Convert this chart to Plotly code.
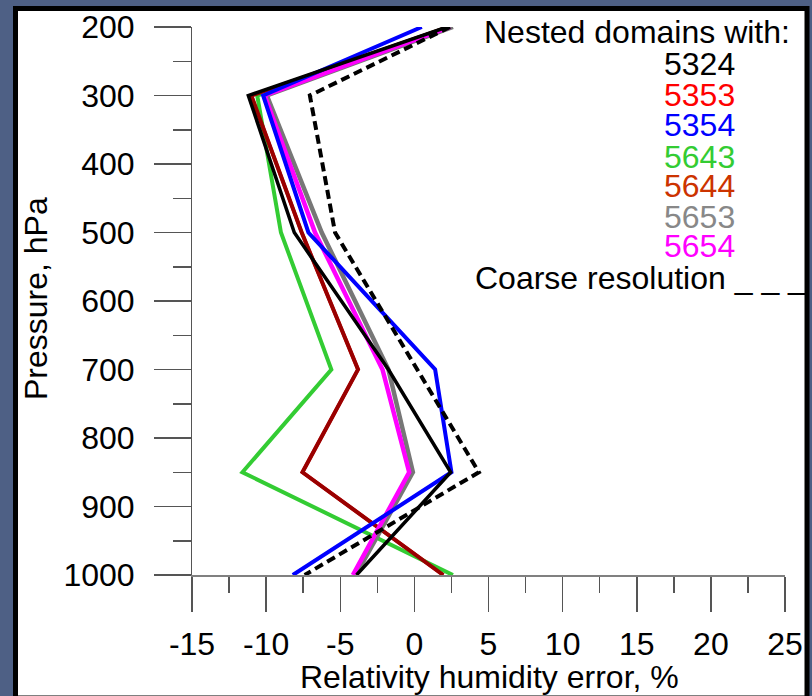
import plotly.graph_objects as go

# ---------------- data ----------------
pressure = [200, 300, 500, 700, 850, 1000]

series_names = ["5324", "5353", "5354", "5643", "5644", "5653", "5654"]
err_5324 = [2.2, -11.2, -8.1, -1.75, 2.45, -3.9]
err_5353 = [2.3, -11.0, -7.6, -3.8, -7.55, 1.95]
err_5354 = [0.5, -10.2, -7.15, 1.4, 2.5, -8.2]
err_5643 = [2.3, -10.6, -9.0, -5.6, -11.6, 2.6]
err_5644 = [2.3, -11.0, -7.6, -3.8, -7.55, 1.95]
err_5653 = [2.6, -9.95, -6.25, -1.75, -0.1, -3.95]
err_5654 = [2.4, -10.1, -6.7, -2.15, -0.35, -4.15]
err_coarse = [2.4, -7.05, -5.35, 0.2, 4.35, -7.4]

x_tick_vals = [-15, -10, -5, 0, 5, 10, 15, 20, 25]
x_tick_text = ["-15", "-10", "-5", "0", "5", "10", "15", "20", "25"]
y_tick_vals = [200, 300, 400, 500, 600, 700, 800, 900, 1000]
y_tick_text = ["200", "300", "400", "500", "600", "700", "800", "900", "1000"]

legend_title = "Nested domains with:"
coarse_label = "Coarse resolution _ _ _"
x_title = "Relativity humidity error, %"
y_title = "Pressure, hPa"

# ---------------- styling ----------------
W, H = 812, 696
L, R, T, B = 192, 785, 27, 575  # plot area in pixels
FONT = "Liberation Sans, Arial, sans-serif"
FS = 32
BG = "#4e6085"

def px(xp):
    return (xp - L) / (R - L)

def py(yp):
    return (B - yp) / (B - T)

line_styles = {
    "5324": dict(color="#000000", width=3.5),
    "5353": dict(color="#ff0000", width=3.5),
    "5354": dict(color="#0000ff", width=4),
    "5643": dict(color="#33cc33", width=4),
    "5644": dict(color="#990000", width=4),
    "5653": dict(color="#777777", width=4.5),
    "5654": dict(color="#ff00ff", width=4.5),
}
legend_colors = {
    "5324": "#000000", "5353": "#ff0000", "5354": "#0000ff", "5643": "#33cc33",
    "5644": "#cc3300", "5653": "#888888", "5654": "#ff00ff",
}
series_data = {
    "5324": err_5324, "5353": err_5353, "5354": err_5354, "5643": err_5643,
    "5644": err_5644, "5653": err_5653, "5654": err_5654,
}
draw_order = ["5353", "5643", "5644", "5653", "5654", "5354", "5324"]

fig = go.Figure()
for name in draw_order:
    fig.add_trace(go.Scatter(x=series_data[name], y=pressure, mode="lines",
                             line=line_styles[name], name=name, showlegend=False))
fig.add_trace(go.Scatter(x=err_coarse, y=pressure, mode="lines",
                         line=dict(color="#000000", width=4, dash="9px,5px"),
                         name="Coarse resolution", showlegend=False))

annotations = []
annotations.append(dict(text=legend_title, x=px(792), y=py(32), xref="paper", yref="paper",
                        xanchor="right", yanchor="middle", showarrow=False,
                        font=dict(family=FONT, size=FS, color="#000000")))
legend_y = [64, 95, 125, 157, 186, 217, 246]
for name, yy in zip(series_names, legend_y):
    annotations.append(dict(text=name, x=px(699), y=py(yy), xref="paper", yref="paper",
                            xanchor="center", yanchor="middle", showarrow=False,
                            font=dict(family=FONT, size=FS, color=legend_colors[name])))
annotations.append(dict(text=coarse_label, x=px(473), y=py(278), xref="paper", yref="paper",
                        xanchor="left", yanchor="middle", showarrow=False,
                        font=dict(family=FONT, size=FS, color="#000000")))
annotations.append(dict(text=x_title, x=px(489), y=py(677), xref="paper", yref="paper",
                        xanchor="center", yanchor="middle", showarrow=False,
                        font=dict(family=FONT, size=FS, color="#000000")))
annotations.append(dict(text=y_title, x=px(36), y=py(299), xref="paper", yref="paper",
                        xanchor="center", yanchor="middle", showarrow=False, textangle=-90,
                        font=dict(family=FONT, size=FS, color="#000000")))

shapes = [
    dict(type="rect", xref="paper", yref="paper", layer="below",
         x0=px(15.5), x1=px(807), y0=py(698), y1=py(8.5),
         fillcolor="#ffffff", line=dict(color="#000000", width=5)),
]

fig.update_layout(
    width=W, height=H,
    margin=dict(l=L, r=W - R, t=T, b=H - B, pad=0, autoexpand=False),
    paper_bgcolor=BG,
    plot_bgcolor="rgba(0,0,0,0)",
    showlegend=False,
    annotations=annotations,
    shapes=shapes,
    font=dict(family=FONT, size=FS, color="#000000"),
    xaxis=dict(range=[-15, 25], tickvals=x_tick_vals, ticktext=x_tick_text, automargin=False,
               showgrid=False, zeroline=False, showline=True, linecolor="#808080", linewidth=2,
               ticks="outside", ticklen=35, tickwidth=1.5, tickcolor="#555555",
               minor=dict(dtick=2.5, ticks="outside", ticklen=16, tickwidth=1.5, tickcolor="#555555"),
               tickfont=dict(family=FONT, size=FS, color="#000000"),
               ticklabelstandoff=5, fixedrange=True),
    yaxis=dict(range=[1000, 200], tickvals=y_tick_vals, ticktext=y_tick_text, automargin=False,
               showgrid=False, zeroline=False, showline=True, linecolor="#555555", linewidth=1,
               ticks="outside", ticklen=37, tickwidth=1.5, tickcolor="#555555",
               minor=dict(dtick=50, ticks="outside", ticklen=18, tickwidth=1.5, tickcolor="#555555"),
               tickfont=dict(family=FONT, size=FS, color="#000000"),
               ticklabelstandoff=13, fixedrange=True),
)

fig.write_html(
    "out.html",
    config={"displayModeBar": False, "staticPlot": True},
    post_script="document.body.style.margin='0';document.body.style.overflow='hidden';"
                "document.body.style.background='" + BG + "';",
)
